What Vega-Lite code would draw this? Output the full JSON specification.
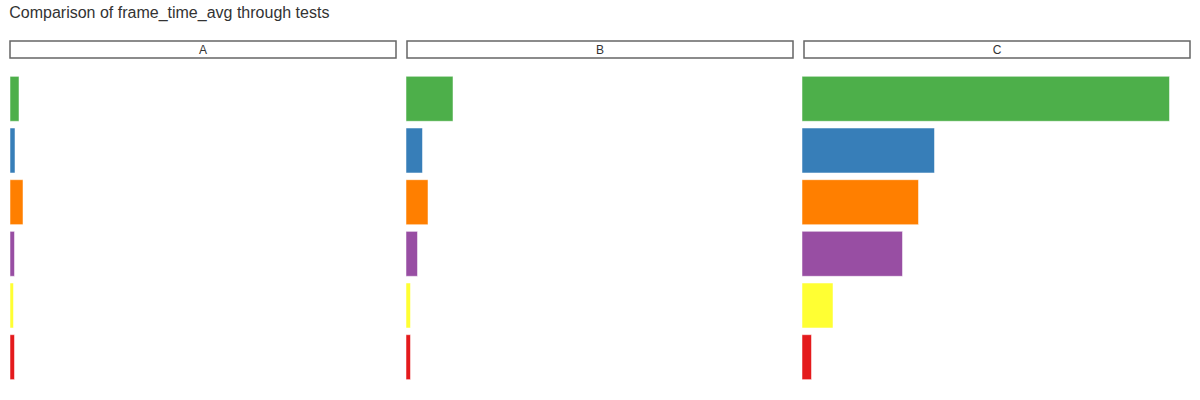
{
  "$schema": "https://vega.github.io/schema/vega-lite/v6.json",
  "padding": {"left": 9, "top": 5, "right": 0, "bottom": 0},
  "background": "white",
  "title": {"text": "Comparison of frame_time_avg through tests", "anchor": "start", "fontSize": 16, "font": "Liberation Sans", "fontWeight": "normal", "color": "#333333", "offset": 19},
  "data": {"values": [
    {"panel": "A", "test": "T1", "frame_time_avg": 9},
    {"panel": "A", "test": "T2", "frame_time_avg": 5},
    {"panel": "A", "test": "T3", "frame_time_avg": 13},
    {"panel": "A", "test": "T4", "frame_time_avg": 4.5},
    {"panel": "A", "test": "T5", "frame_time_avg": 3.5},
    {"panel": "A", "test": "T6", "frame_time_avg": 4.5},
    {"panel": "B", "test": "T1", "frame_time_avg": 47},
    {"panel": "B", "test": "T2", "frame_time_avg": 16.5},
    {"panel": "B", "test": "T3", "frame_time_avg": 22},
    {"panel": "B", "test": "T4", "frame_time_avg": 11.5},
    {"panel": "B", "test": "T5", "frame_time_avg": 4.5},
    {"panel": "B", "test": "T6", "frame_time_avg": 4.5},
    {"panel": "C", "test": "T1", "frame_time_avg": 367.5},
    {"panel": "C", "test": "T2", "frame_time_avg": 132.5},
    {"panel": "C", "test": "T3", "frame_time_avg": 116.5},
    {"panel": "C", "test": "T4", "frame_time_avg": 100.5},
    {"panel": "C", "test": "T5", "frame_time_avg": 31},
    {"panel": "C", "test": "T6", "frame_time_avg": 9.5}
  ]},
  "spacing": 14,
  "vconcat": [
    {
      "transform": [{"filter": "datum.test === 'T1'"}],
      "facet": {"column": {"field": "panel", "type": "nominal", "header": null}},
      "spacing": 9,
      "spec": {
        "width": 386,
        "height": 17,
        "view": {"stroke": "#666666", "strokeWidth": 1.5, "fill": "white"},
        "mark": {"type": "text", "font": "Liberation Sans", "fontSize": 12, "color": "#333333", "baseline": "middle", "align": "center"},
        "encoding": {"text": {"field": "panel", "type": "nominal"}}
      }
    },
    {
      "facet": {"column": {"field": "panel", "type": "nominal", "header": null}},
      "spacing": 9,
      "spec": {
        "width": 386,
        "height": 310,
        "view": {"stroke": null},
        "mark": {"type": "bar", "stroke": "white", "strokeOpacity": 0.5, "strokeWidth": 1},
        "encoding": {
          "y": {"field": "test", "type": "nominal", "sort": ["T1", "T2", "T3", "T4", "T5", "T6"], "axis": null, "scale": {"paddingInner": 0.13, "paddingOuter": 0.065}},
          "x": {"field": "frame_time_avg", "type": "quantitative", "axis": null, "scale": {"domain": [0, 386], "nice": false}},
          "color": {"field": "test", "type": "nominal", "legend": null, "scale": {"domain": ["T1", "T2", "T3", "T4", "T5", "T6"], "range": ["#4daf4a", "#377eb8", "#ff7f00", "#984ea3", "#ffff33", "#e41a1c"]}}
        }
      }
    }
  ]
}
